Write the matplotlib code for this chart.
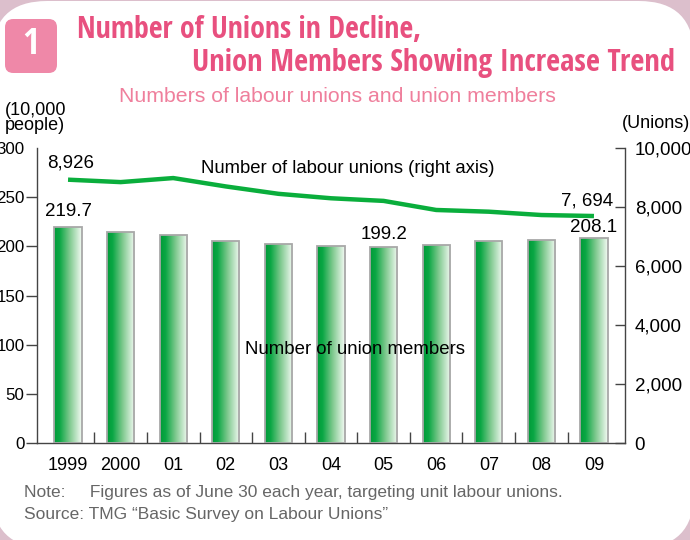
import matplotlib
matplotlib.use("Agg")
import matplotlib.pyplot as plt
import matplotlib.font_manager as fm
from matplotlib.colors import LinearSegmentedColormap
from matplotlib.patches import FancyBboxPatch
import numpy as np

# ---- data -------------------------------------------------------------
years = ["1999", "2000", "01", "02", "03", "04", "05", "06", "07", "08", "09"]
members = [219.7, 214.5, 211.4, 205.8, 202.3, 200.2, 199.2, 201.0, 205.4, 206.8, 208.1]  # 10,000 people
unions = [8926, 8844, 8981, 8697, 8447, 8296, 8207, 7899, 7841, 7728, 7694]              # unions
left_ticks = [0, 50, 100, 150, 200, 250, 300]
right_ticks = [0, 2000, 4000, 6000, 8000, 10000]

# ---- fonts -------------------------------------------------------------
names = {f.name for f in fm.fontManager.ttflist}
cond_name = next((n for n in ["Open Sans Condensed", "Liberation Sans Narrow",
                              "Roboto Condensed", "DejaVu Sans Condensed"] if n in names), None)
if cond_name:
    COND = dict(family=[cond_name, "DejaVu Sans"])
else:
    COND = dict(family=["DejaVu Sans"], stretch="condensed")
REG = dict(family=["Liberation Sans", "DejaVu Sans"])

W, H = 690, 540
fig = plt.figure(figsize=(W / 100, H / 100), dpi=100)
fig.patch.set_facecolor("#dcbfcc")


def fx(px):
    return px / W


def fy(py):
    return 1 - py / H


# white rounded panel behind everything
panel = FancyBboxPatch((fx(-8), fy(548)), fx(702) - fx(0), fy(1) - fy(548),
                       boxstyle="round,pad=0,rounding_size=0.08",
                       transform=fig.transFigure, facecolor="white",
                       edgecolor="none", zorder=-10, mutation_aspect=W / H)
fig.patches.append(panel)

# numbered badge
badge = FancyBboxPatch((fx(5), fy(73)), fx(52), 54 / H,
                       boxstyle="round,pad=0,rounding_size=0.012",
                       transform=fig.transFigure, facecolor="#ef88a8",
                       edgecolor="none", zorder=1, mutation_aspect=W / H)
fig.patches.append(badge)
fig.text(fx(31), fy(45), "1", color="white", fontsize=26, ha="center",
         va="center", zorder=2, **COND)

title_color = "#e8507f"
fig.text(fx(77), fy(30), "Number of Unions in Decline,", color=title_color,
         fontsize=21.5, fontweight="bold", ha="left", va="center", **COND)
fig.text(fx(675), fy(63), "Union Members Showing Increase Trend",
         color=title_color, fontsize=22, fontweight="bold", ha="right",
         va="center", **COND)
fig.text(fx(337), fy(96), "Numbers of labour unions and union members",
         color="#ef7f9c", fontsize=15.3, ha="center", va="center", **REG)

fig.text(fx(5), fy(118), "(10,000\npeople)", fontsize=13, ha="left",
         va="center", linespacing=0.9, **REG)
fig.text(fx(690), fy(124), "(Unions)", fontsize=13, ha="right",
         va="center", **REG)

# ---- axes ---------------------------------------------------------------
ax = fig.add_axes([fx(37), fy(443), fx(625) - fx(37), fy(148) - fy(443)])
ax.set_facecolor("none")
ax2 = ax.twinx()

x = np.arange(len(years))
bw = 0.52
bars = ax.bar(x, members, width=bw, facecolor="none", edgecolor="#a8a8a8",
              linewidth=1.3, zorder=3)

cmap = LinearSegmentedColormap.from_list(
    "barfade", [(0.0, "#009a38"), (0.2, "#0aa744"), (0.55, "#7cc88c"),
                (1.0, "#f4faf4")])
grad = np.linspace(0, 1, 256).reshape(1, -1)
for b in bars:
    x0, y0 = b.get_x(), b.get_y()
    im = ax.imshow(grad, cmap=cmap, aspect="auto", zorder=2,
                   extent=[x0, x0 + b.get_width(), y0, y0 + b.get_height()],
                   interpolation="bilinear")
    im.set_clip_path(b)

ax.set_xlim(-0.59, len(years) - 1 + 0.59)
ax.set_ylim(left_ticks[0], left_ticks[-1])
ax2.set_ylim(right_ticks[0], right_ticks[-1])

ax2.plot(x, unions, color="#0aae3c", linewidth=3.2, solid_capstyle="butt",
         solid_joinstyle="round", zorder=4)

spine_c = "#444444"
for a in (ax, ax2):
    a.spines["top"].set_visible(False)
    for s in ("left", "right", "bottom"):
        a.spines[s].set_color(spine_c)
        a.spines[s].set_linewidth(1.0)
ax.spines["right"].set_visible(False)
ax2.spines["left"].set_visible(False)
ax2.spines["bottom"].set_visible(False)

ax.set_yticks(left_ticks)
ax.set_yticklabels([str(v) for v in left_ticks])
ax.tick_params(axis="y", direction="out", length=8, width=1, color=spine_c,
               pad=1, labelsize=12.2)
# the top tick of the left axis turns inward
ax.yaxis.get_major_ticks()[-1].tick1line.set_visible(False)
ax.set_yticks([left_ticks[-1]], minor=True)
ax.tick_params(axis="y", which="minor", direction="in", length=6, width=1,
               color=spine_c, labelleft=False)

ax2.set_yticks(right_ticks)
ax2.set_yticklabels([f"{v:,}" for v in right_ticks])
ax2.tick_params(axis="y", direction="in", length=7, width=1, color=spine_c,
                pad=7, labelsize=13.5)

ax.set_xticks(x)
ax.set_xticklabels(years)
ax.set_xticks(x[:-1] + 0.5, minor=True)
ax.tick_params(axis="x", which="major", length=0, pad=10, labelsize=13)
ax.tick_params(axis="x", which="minor", direction="in", length=8, width=1,
               color=spine_c)
for lab in ax.get_xticklabels() + ax.get_yticklabels() + ax2.get_yticklabels():
    lab.set_fontfamily(REG["family"])

# value labels
lbl = dict(fontsize=13.5, **REG)
ax.annotate(f"{members[0]:.1f}", (x[0], members[0]), xytext=(0, 5),
            textcoords="offset points", ha="center", va="bottom", **lbl)
ax.annotate(f"{members[6]:.1f}", (x[6], members[6]), xytext=(0, 3),
            textcoords="offset points", ha="center", va="bottom", **lbl)
ax.annotate(f"{members[-1]:.1f}", (x[-1], members[-1]), xytext=(0, 2),
            textcoords="offset points", ha="center", va="bottom", **lbl)
ax2.annotate(f"{unions[0]:,}", (x[0], unions[0]), xytext=(-15, 6),
             textcoords="offset points", ha="left", va="bottom", **lbl)
ax2.annotate(f"{unions[-1]:,}".replace(",", ", "), (x[-1], unions[-1]),
             xytext=(14, 5), textcoords="offset points", ha="right",
             va="bottom", **lbl)

ax2.text(5.32, 9320, "Number of labour unions (right axis)",
         ha="center", va="center", fontsize=13.3, zorder=6, **REG)
ax.text(5.46, 95, "Number of union members", ha="center",
        va="center", fontsize=13.4, zorder=6, **REG)

# notes
note_c = "#666666"
fig.text(fx(24), fy(493), "Note:     Figures as of June 30 each year, targeting unit labour unions.",
         color=note_c, fontsize=12.5, ha="left", va="center", **REG)
fig.text(fx(24), fy(515), "Source: TMG \u201cBasic Survey on Labour Unions\u201d",
         color=note_c, fontsize=12.5, ha="left", va="center", **REG)

fig.savefig("out.png", dpi=100, facecolor=fig.get_facecolor())
